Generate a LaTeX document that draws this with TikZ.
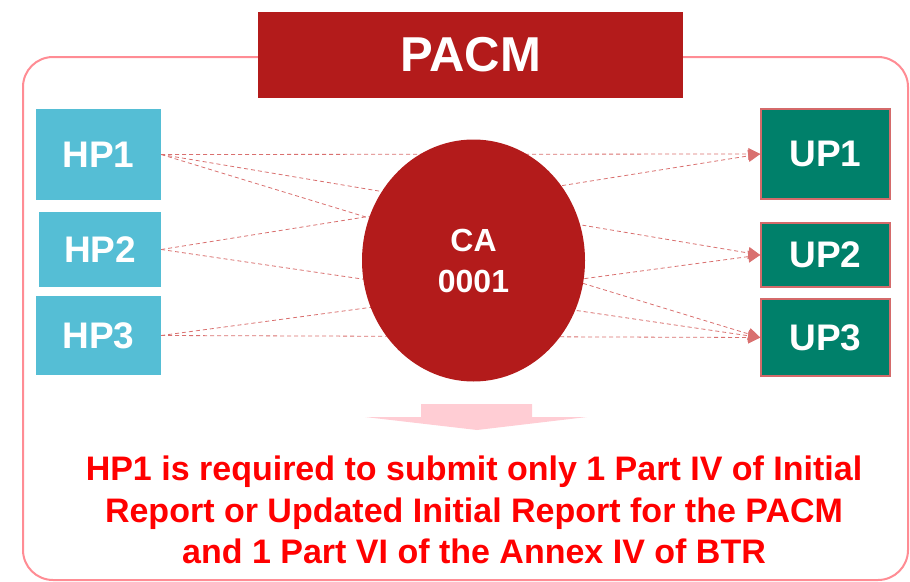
\documentclass[tikz,border=0pt]{standalone}
\usepackage{fontspec}
\setmainfont{Liberation Sans}
\usetikzlibrary{shapes,arrows.meta}
\definecolor{hpblue}{HTML}{55BED5}
\definecolor{upgreen}{HTML}{00806A}
\definecolor{upborder}{HTML}{D46A6A}
\definecolor{pacmred}{HTML}{B31B1B}
\definecolor{framepink}{HTML}{FF8C94}
\definecolor{dashred}{HTML}{D9706F}
\definecolor{arrowpink}{HTML}{FFCDD4}
\definecolor{notered}{HTML}{FF0000}
\tikzset{
  party/.style = {rectangle, inner sep=0pt, text=white,
                  font=\bfseries\fontsize{37}{37}\selectfont},
  hp/.style    = {party, fill=hpblue},
  up/.style    = {party, fill=upgreen, draw=upborder, line width=1.5pt}
}
\newcommand{\party}[5]{
  \node[#1, minimum width=#4, minimum height=#5] (#2) at #3 {#2};
}

\begin{document}
\begin{tikzpicture}[x=1pt,y=-1pt]
	\useasboundingbox (0,0) rectangle (910,581);
	\draw[framepink, line width=2pt, rounded corners=30pt] (23,57) rectangle (908,580);
	\node[fill=pacmred, minimum width=425pt, minimum height=86pt, text=white,
	      font=\bfseries\fontsize{49}{49}\selectfont] (PACM) at (470.5,55) {PACM};
	\party{hp}{HP1}{(98.5,154.5)}{125pt}{91pt}
	\party{hp}{HP2}{(100,249.5)}{122pt}{75pt}
	\party{hp}{HP3}{(98.5,335.5)}{125pt}{79pt}
	\party{up}{UP1}{(825.5,154)}{129pt}{90pt}
	\party{up}{UP2}{(825.5,255)}{129pt}{64pt}
	\party{up}{UP3}{(825.5,337.5)}{129pt}{77pt}
	\tikzstyle{EdgeStyle}=[draw=dashred, line width=0.8pt, dash pattern=on 4pt off 3pt,
	                       -{Triangle[length=12pt,width=12pt,fill=dashred]}]
	\foreach \a/\b in {HP1/UP1,HP1/UP2,HP1/UP3,HP2/UP1,HP2/UP3,HP3/UP2,HP3/UP3}
		\draw[EdgeStyle] (\a.east) -- (\b.west);
	\node[ellipse, fill=pacmred, inner sep=0pt, minimum width=223pt, minimum height=242pt,
	      text=white, align=center, font=\bfseries\fontsize{32}{41}\selectfont]
	      (CA) at (473.5,260.5) {CA\\0001};
	% down arrow to the note
	\fill[arrowpink] (421,404) -- (532,404) -- (532,417) -- (587,417) -- (477,430)
	      -- (365,417) -- (421,417) -- cycle;
	\node[text=notered, align=center, inner sep=0pt,
	      font=\bfseries\fontsize{34}{41.5}\selectfont] (note) at (474,510)
	      {HP1 is required to submit only 1 Part IV of Initial\\
	       Report or Updated Initial Report for the PACM\\
	       and 1 Part VI of the Annex IV of BTR};
\end{tikzpicture}
\end{document}
